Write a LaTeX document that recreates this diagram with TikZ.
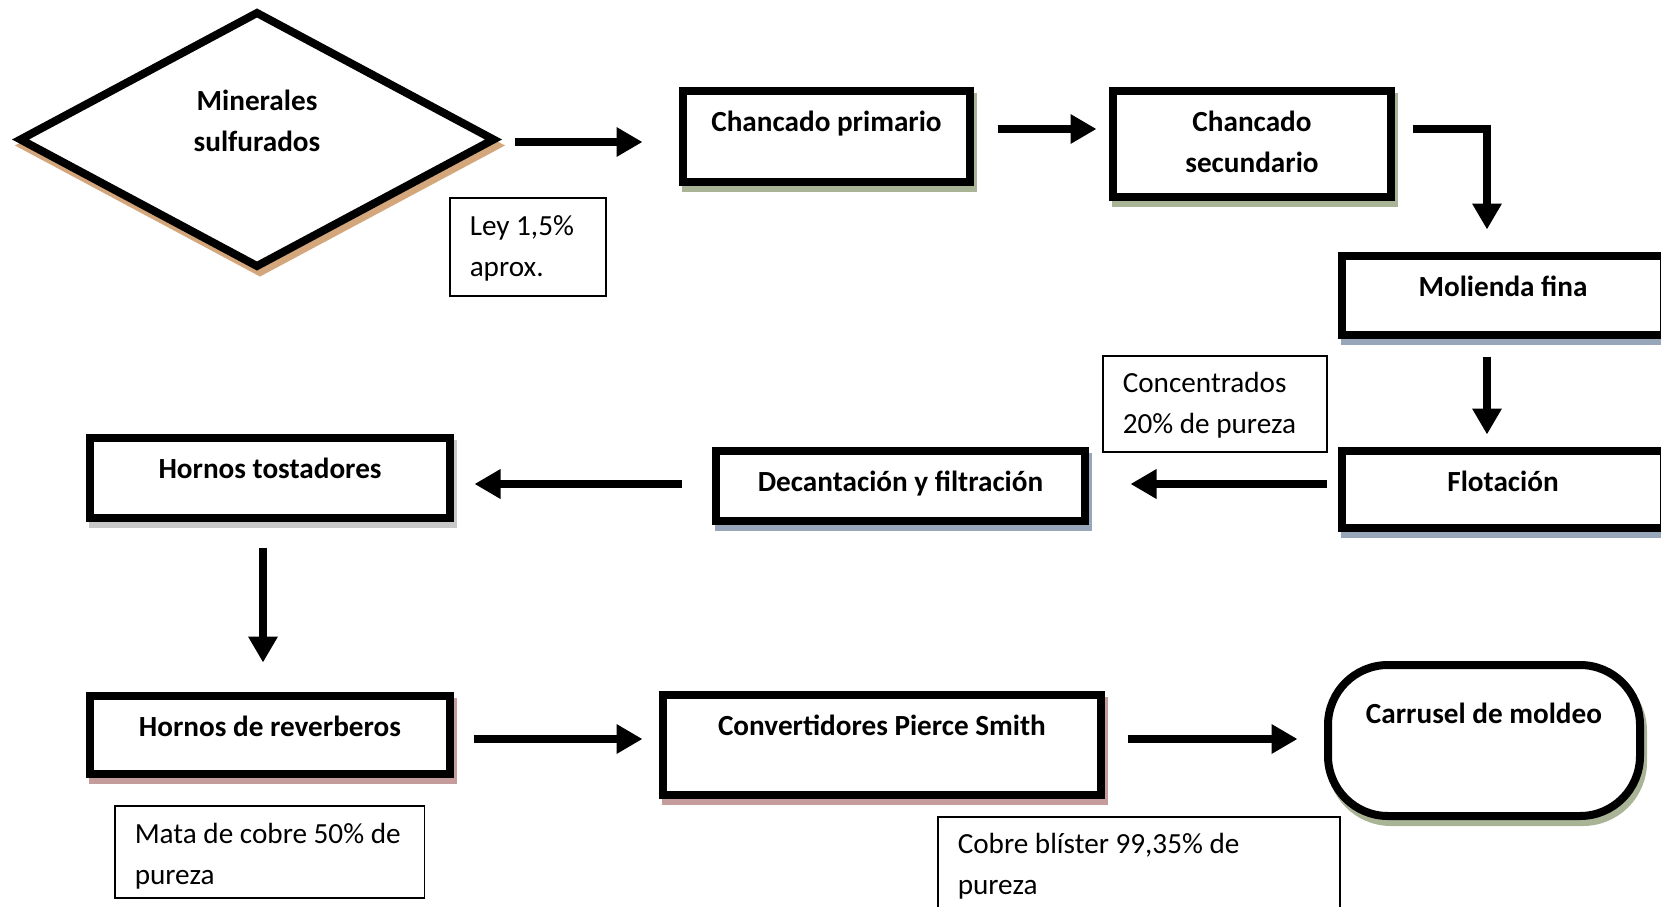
\documentclass[tikz,border=0pt]{standalone}
\usepackage{fontspec}
\setmainfont{Carlito}
\newcommand{\txtsize}{\fontsize{14.6pt}{20.5pt}\selectfont}
\usetikzlibrary{shapes.geometric}
\usetikzlibrary{arrows.meta}
\usetikzlibrary{shadows}
\usetikzlibrary{calc}

\definecolor{tanshd}{HTML}{D4A67C}
\definecolor{greenshd}{HTML}{A9B496}
\definecolor{blueshd}{HTML}{97A6B9}
\definecolor{grayshd}{HTML}{C8C8C8}
\definecolor{roseshd}{HTML}{C59C9C}

\tikzset{
	shadowed/.style={drop shadow={shadow xshift=1.5pt,shadow yshift=-3pt,opacity=1,fill=#1,draw=#1,line width=4pt}},
	proc/.style n args={3}{draw,line width=4pt,fill=white,inner sep=0pt,outer sep=0pt,
		font=\txtsize\bfseries,align=center,text height=20pt,
		minimum width=#1,text depth=#2,shadowed=#3},
	mineral/.style={shape=diamond,draw,line width=4pt,fill=white,inner sep=0pt,outer sep=0pt,
		aspect=1.88,minimum width=236.5pt,minimum height=126.5pt,
		font=\txtsize\bfseries,align=center,text height=40.5pt,text depth=29pt,shadowed=tanshd},
	note/.style n args={3}{draw,line width=0.75pt,fill=white,inner xsep=10pt,inner ysep=0pt,
		anchor=north west,font=\txtsize,align=flush left,text width=#1,text height=#2,text depth=#3},
	flow/.style={line width=4pt,-{Triangle[length=13pt,width=14pt]}},
}

\begin{document}
\begin{tikzpicture}[x=0.5pt,y=-0.5pt]
	\useasboundingbox (0,0) rectangle (1661,906);
	% first row
	\node[mineral] (min) at (257,139.5){Minerales\\sulfurados};
	\node[proc={143.5pt}{25.5pt}{greenshd}] (pri) at (826.5,136.5){Chancado primario};
	\node[proc={139pt}{12.5pt}{greenshd},text height=40.5pt] (sec) at (1252,144){Chancado\\secundario};
	\node[proc={161pt}{19.5pt}{blueshd}] (mol) at (1503,295.5){Molienda fina};
	% second row
	\node[proc={161pt}{18.5pt}{blueshd}] (flo) at (1503,489.5){Flotación};
	\node[proc={184.5pt}{15pt}{blueshd}] (dec) at (900.5,486){Decantación y filtración};
	\node[proc={180pt}{20pt}{grayshd}] (tos) at (270,478){Hornos tostadores};
	% third row
	\node[proc={180pt}{19pt}{roseshd}] (rev) at (270,735){Hornos de reverberos};
	\node[proc={219pt}{30pt}{roseshd}] (con) at (882,745){Convertidores Pierce Smith};
	\node[proc={156pt}{46.25pt}{greenshd},rounded corners=30pt,text height=29.25pt] (car) at (1484,740.5){Carrusel de moldeo};
	% notes
	\node[note={58pt}{19pt}{30pt}] (ley) at (449,197){Ley 1,5\%\\aprox.};
	\node[note={92pt}{18.5pt}{29.5pt}] (conc) at (1102,355){Concentrados\\20\% de pureza};
	\node[note={134.75pt}{19pt}{27pt}] (mata) at (114,805){\mbox{Mata de cobre 50\% de}\\pureza};
	\node[note={181pt}{18.5pt}{45pt}] (blis) at (937,816){\mbox{Cobre blíster 99,35\% de}\\pureza};
	% arrows
	\draw[flow,shorten <=10.75pt,shorten >=20.25pt] ($(min.east)+(0,2.5)$) -- ($(min.east -| pri.west)+(0,2.5)$);
	\draw[flow,shorten <=13.75pt,shorten >=8.25pt] ($(pri.east)+(0,-7.5)$) -- ($(pri.east -| sec.west)+(0,-7.5)$);
	\draw[flow,shorten <=10.75pt,shorten >=13.25pt] ($(sec.east)+(0,-15)$) -| ($(mol.north)+(-16,0)$);
	\draw[flow,shorten <=10.75pt,shorten >=8.25pt] ($(mol.south)+(-16,0)$) -- ($(flo.north)+(-16,0)$);
	\draw[flow,shorten <=7.75pt,shorten >=22.75pt] ($(flo.west)+(0,-5.5)$) -- ($(flo.west -| dec.east)+(0,-5.5)$);
	\draw[flow,shorten <=17.25pt,shorten >=12.25pt] ($(dec.west)+(0,-2)$) -- ($(dec.west -| tos.east)+(0,-2)$);
	\draw[flow,shorten <=14.75pt,shorten >=16.75pt] ($(tos.south)+(-7,0)$) -- ($(rev.north)+(-7,0)$);
	\draw[flow,shorten <=11.75pt,shorten >=10.25pt] ($(rev.east)+(0,4)$) -- ($(rev.east -| con.west)+(0,4)$);
	\draw[flow,shorten <=13.25pt,shorten >=15.25pt] ($(con.east)+(0,-6)$) -- ($(con.east -| car.west)+(0,-6)$);
\end{tikzpicture}
\end{document}
